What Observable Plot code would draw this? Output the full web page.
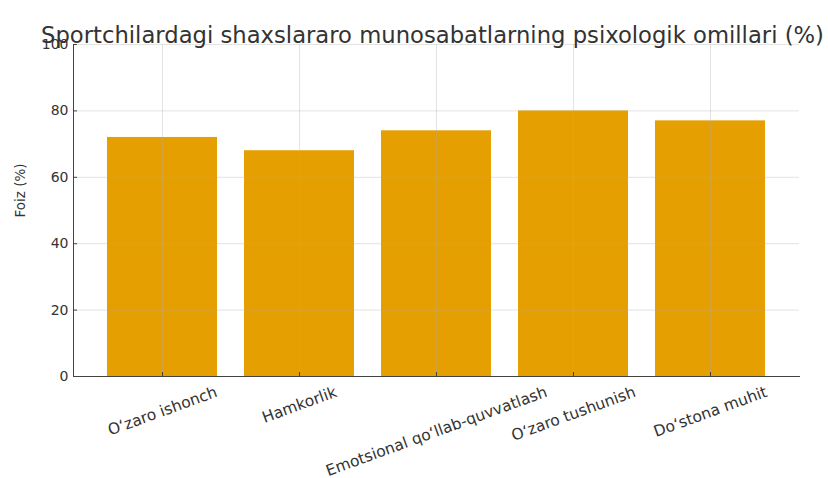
<!DOCTYPE html>
<html><head><meta charset="utf-8">
<script src="https://cdn.jsdelivr.net/npm/d3@7"></script>
<script src="https://cdn.jsdelivr.net/npm/@observablehq/plot@0.6"></script>
<style>body{margin:0;background:#fff;}</style>
</head><body><div id="chart"></div>
<script>
const categories = ["O‘zaro ishonch", "Hamkorlik", "Emotsional qo‘llab-quvvatlash", "O‘zaro tushunish", "Do‘stona muhit"];
const values = [72, 68, 74, 80, 77];
const yTicks = [0, 20, 40, 60, 80, 100];
const title = "Sportchilardagi shaxslararo munosabatlarning psixologik omillari (%)";
const yLabel = "Foiz (%)";

const data = categories.map((c, i) => ({category: c, value: values[i]}));
const font = "DejaVu Sans";
const xFont = 15.5;
const ctx = document.createElement("canvas").getContext("2d");
ctx.font = `${xFont}px "${font}"`;
const ang = 20 * Math.PI / 180;
const labelMarks = categories.map(c => {
  const w = ctx.measureText(c).width;
  const H = w * Math.sin(ang) + xFont * 1.1 * Math.cos(ang);
  return Plot.text([c], {x: d => d, frameAnchor: "bottom", rotate: -20, textAnchor: "middle",
    lineAnchor: "middle", dy: 7 + H / 2, fontSize: xFont, fill: "#333"});
});

const chart = Plot.plot({
  width: 828, height: 478,
  marginLeft: 73, marginRight: 29, marginTop: 44, marginBottom: 102,
  style: {fontFamily: font, background: "#fff"},
  x: {domain: categories, paddingInner: 0.2, paddingOuter: 0.24, label: null},
  y: {domain: [0, 100], label: null},
  marks: [
    Plot.barY(data, {x: "category", y: "value", fill: "#E69F00"}),
    Plot.gridX({stroke: "#b0b0b0", strokeOpacity: 0.35}),
    Plot.gridY(yTicks, {stroke: "#b0b0b0", strokeOpacity: 0.35}),
    Plot.axisX({tickSize: -4, tickFormat: () => "", stroke: "#444"}),
    Plot.axisY(yTicks, {tickSize: -4, tickPadding: 9, fontSize: 14, fill: "#333", stroke: "#444", label: null}),
    Plot.frame({anchor: "left", stroke: "#444"}),
    Plot.frame({anchor: "bottom", stroke: "#444"}),
    ...labelMarks,
    Plot.text([yLabel], {frameAnchor: "left", dx: -53, dy: 7, rotate: -90, fontSize: 13.5, fill: "#333"}),
    Plot.text([title], {frameAnchor: "top", dx: -4, dy: -18, fontSize: 22.7, fill: "#333"})
  ]
});
document.getElementById("chart").appendChild(chart);
</script>
</body></html>
